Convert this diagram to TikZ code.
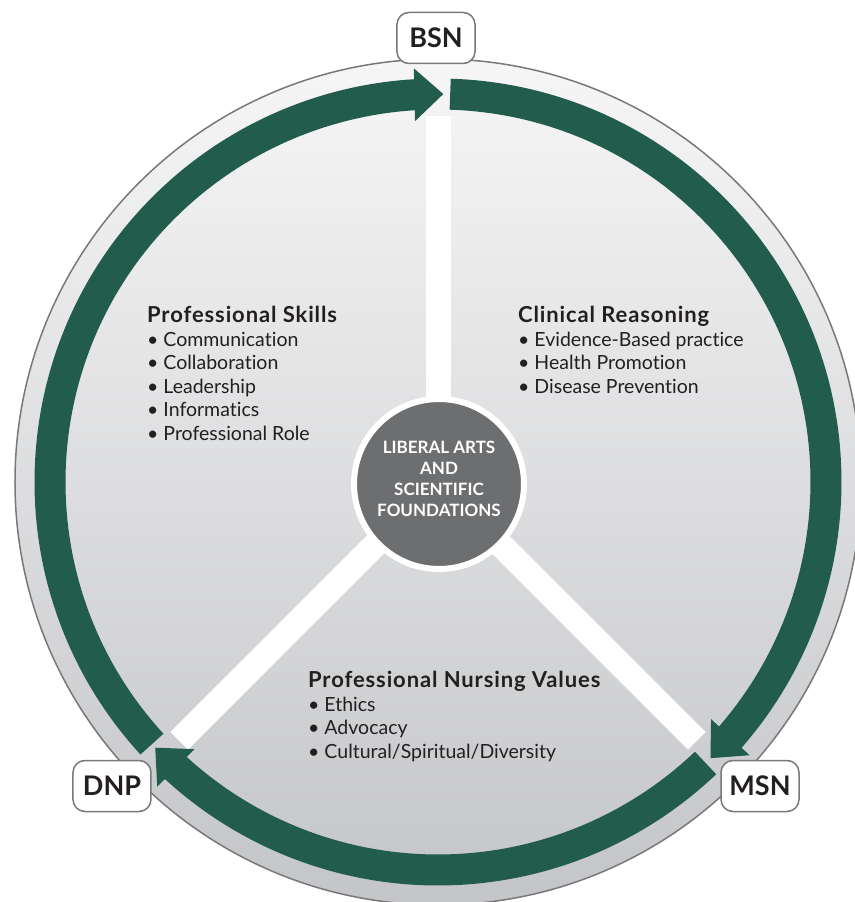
\documentclass[tikz,border=0pt]{standalone}
\usepackage{fontspec}
\setmainfont{Lato}[Ligatures=NoCommon]
\usetikzlibrary{arrows.meta,bending}

\definecolor{ringgreen}{RGB}{34,92,76}
\definecolor{hubgray}{RGB}{109,110,112}
\definecolor{rimgray}{RGB}{120,120,120}
\definecolor{inkdark}{RGB}{35,31,32}
\definecolor{disctop}{RGB}{246,246,246}
\definecolor{discbottom}{RGB}{196,197,200}

\providecommand{\headfontsize}{\fontsize{22}{23.5}\selectfont\bfseries\addfontfeature{LetterSpace=4}}
\providecommand{\itemfontsize}{\fontsize{19.5}{23.5}\selectfont}
\providecommand{\hubfontsize}{\fontsize{17}{21}\selectfont\bfseries}

\tikzset{
  degree/.style={draw=rimgray, line width=1.5pt, fill=white, rounded corners=12pt,
    minimum width=78pt, minimum height=51pt, inner sep=0pt, text=inkdark,
    font=\fontsize{27}{27}\selectfont\bfseries},
  spoke/.style={white, line width=25pt},
  cycle/.style={ringgreen, line width=31pt, -{Triangle[width=51pt,length=29pt]}},
  listing/.style={anchor=north west, align=left, inner sep=0pt, text=inkdark,
    font=\itemfontsize}
}

\begin{document}
\begin{tikzpicture}[x=1pt,y=1pt]
    \pgfmathsetmacro{\outerradius}{423}
    \pgfmathsetmacro{\ringradius}{388}
    \pgfmathsetmacro{\spokelength}{366}
    \useasboundingbox (-438,-420) rectangle (416,482);
    % the disc and its rim
    \shade[top color=disctop, bottom color=discbottom] (0,0) circle (\outerradius);
    \draw[rimgray, line width=1.5pt] (0,0) circle (\outerradius);
    \foreach \a in {90,225,-45}
        \draw[spoke] (0,0) -- (\a:\spokelength);
    \node[circle, fill=hubgray, draw=white, line width=6pt, minimum size=170pt,
        align=center, text=white, font=\hubfontsize, inner sep=0pt] (hub) at (1,-2)
        {LIBERAL ARTS\\AND\\SCIENTIFIC\\FOUNDATIONS\\[-10pt]};
    % green cycle BSN -> MSN -> DNP -> BSN
    \draw[cycle] (222.5:\ringradius) arc[start angle=222.5, end angle=89.2, radius=\ringradius];
    \draw[cycle] (88.2:\ringradius) arc[start angle=88.2, end angle=-45.4, radius=\ringradius];
    \draw[cycle] (-46.4:\ringradius) arc[start angle=-46.4, end angle=-136.8, radius=\ringradius];
    \node[degree] (bsn) at (-2,444) {BSN};
    \node[degree] (msn) at (322,-304) {MSN};
    \node[degree] (dnp) at (-326,-304) {DNP};
    % the three areas
    \node[listing] (skills) at (-291,176) {
        {\headfontsize Professional Skills}\\
        \textbullet\ Communication\\
        \textbullet\ Collaboration\\
        \textbullet\ Leadership\\
        \textbullet\ Informatics\\
        \textbullet\ Professional Role
    };
    \node[listing] (reasoning) at (80,176) {
        {\headfontsize Clinical Reasoning}\\
        \textbullet\ Evidence-Based practice\\
        \textbullet\ Health Promotion\\
        \textbullet\ Disease Prevention
    };
    \node[listing] (values) at (-130,-189) {
        {\headfontsize Professional Nursing Values}\\
        \textbullet\ Ethics\\
        \textbullet\ Advocacy\\
        \textbullet\ Cultural/Spiritual/Diversity
    };
\end{tikzpicture}
\end{document}
